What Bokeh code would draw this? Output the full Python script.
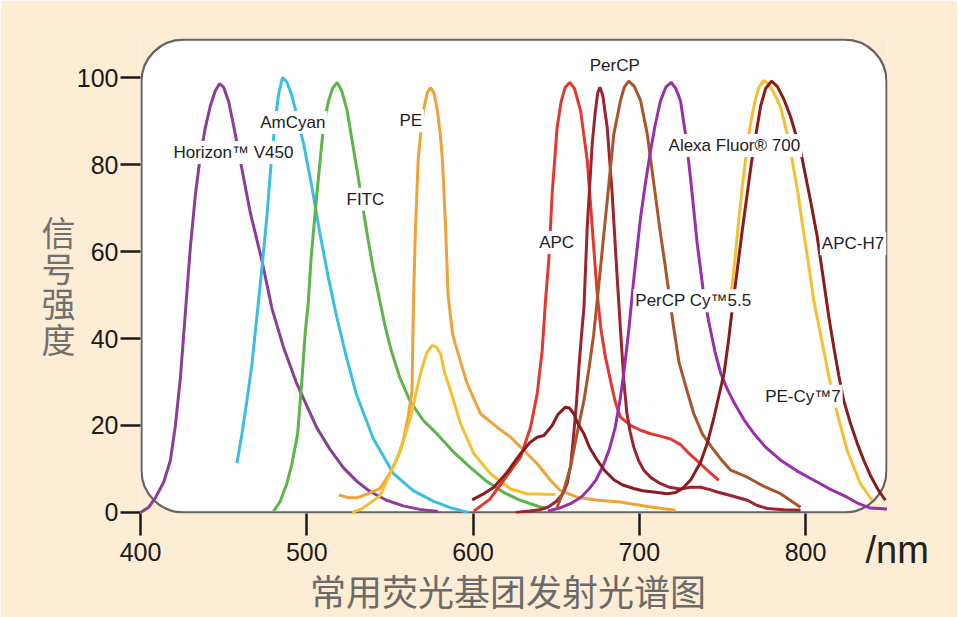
from bokeh.plotting import figure
from bokeh.models import Range1d, FixedTicker, BoxAnnotation, Label
from bokeh.embed import file_html
from bokeh.resources import INLINE

# ---------------- data (wavelength nm, relative intensity) ----------------
horizon_x = [400, 405, 409, 414, 418, 421, 424, 427, 430, 433, 436, 439, 442, 445, 447.5, 450, 453, 456,
             460, 466, 473, 479, 486, 494, 506, 514, 522, 530, 538, 548, 558, 568, 579]
horizon_y = [0, 1.2, 3.4, 7, 12, 20, 31, 46, 61, 73, 82, 88.5, 93.5, 97, 98.6, 97.8, 94.5, 89,
             81, 69, 58, 47, 38, 29.6, 19.5, 14.5, 10.3, 7.2, 4.8, 2.8, 1.5, 0.7, 0.2]

amcyan_x = [458, 461, 464, 467, 470, 473, 476, 478.5, 481, 483, 485.4, 488, 490.5, 493, 496, 498, 503,
            508, 513, 518, 524, 530, 540, 552, 564, 576, 587, 597]
amcyan_y = [11.3, 18, 25.7, 34, 45, 56, 68, 80, 90, 96, 100, 99, 96.5, 93, 88, 85, 75,
            64, 54, 45, 35.5, 27, 17, 9, 5, 2.6, 1, 0]

fitc_x = [480, 484, 488, 491, 494.5, 497, 499, 501, 502.5, 506, 510, 513, 515.5, 518.3, 521, 524.3,
          528.3, 531, 534, 537, 540, 543.5, 547, 551, 556, 562, 570, 578.5, 588, 598.5,
          608, 618.5, 627, 634.6, 644]
fitc_y = [0.2, 2.5, 6.6, 11, 18, 30, 41, 48.7, 58, 73, 88.5, 94.5, 97.5, 98.9, 97, 92.4,
          83.2, 77, 69.5, 62.5, 56, 49.5, 43, 37, 31, 25.7, 21.2, 18, 14, 10.3,
          7.2, 4.6, 3, 2, 0.8]

pe_x = [519.3, 525, 530.3, 537, 544, 550, 555, 558, 561, 563.3, 563.8, 564.3, 565.4, 567, 569, 570.5,
        572.5, 574.4, 576.5, 578.6, 580.3, 581.6, 583.5, 585, 587.7, 590.5, 596.5, 604.5, 614.5,
        622.6, 630.6, 638.6, 646.6, 652.6, 662.7, 675, 688.7, 694.7, 708, 721.8]
pe_y = [4, 3.4, 3.4, 4.3, 5.5, 9, 13, 16.5, 22, 28, 40, 50, 65.5, 81, 89, 93,
        96.5, 97.7, 96.5, 92.4, 87, 81, 65.5, 50, 41, 37.2, 29.6, 22.7, 19.6,
        17.3, 14.3, 11.2, 7.4, 5, 3.5, 2.8, 2.4, 2, 1.2, 0.5]

pecy7_pe_x = [527.3, 533, 538.3, 544, 548.4, 552, 556.4, 562.4, 568.4, 572, 575.4, 578, 580.5, 583,
              586.5, 592.5, 600.5, 610.5, 622.6, 632.6, 649.6]
pecy7_pe_y = [0, 0.8, 2.2, 3.8, 7.4, 10.5, 14.3, 21.9, 31.9, 36.5, 38.4, 38, 36.5, 32,
              28, 20.4, 13.5, 8.9, 5.4, 4.3, 4.1]
pecy7_x = [755.5, 757.5, 759.5, 762, 764.5, 767, 769.5, 772, 774.9, 778, 781, 785, 789, 792, 795.5,
           798, 800.6, 803, 805, 811, 817, 825, 833, 840]
pecy7_y = [51, 58, 66, 75, 83, 89.5, 94.5, 97.8, 99.3, 98.5, 96.5, 93.2, 87, 81, 73.3,
           66.5, 60.2, 54, 48.7, 37.2, 25.7, 14.3, 6.6, 2.8]

apc_x = [600.5, 610, 618.5, 628.6, 634.6, 638.6, 641.6, 643.6, 645.6, 647.6, 650.6, 653, 655.5, 658.2,
         661, 664.7, 668.7, 671.7, 674.7, 677, 679.5, 682.7, 685.5, 688.7, 694.7, 700.8, 706.8, 712,
         718.8, 724.8, 730, 736.8, 742, 747.8]
apc_y = [0.3, 3, 7.4, 12.7, 19.6, 27.3, 37.2, 48.7, 58, 73.3, 88.6, 94.5, 97.8, 98.9,
         97.5, 92.4, 81, 65.6, 50.3, 42, 36, 30.3, 25.5, 21.9, 20, 18.9, 18.1, 17.6,
         16.9, 15.6, 13.5, 11.2, 9.3, 7.4]

percp_x = [625.6, 634, 640, 645, 650, 654, 656.6, 658.8, 660.6, 662.2, 663.7, 665.3, 666.7, 668.7,
           671.7, 673.5, 675, 676.3, 678, 680.7, 683.7, 686.7, 688.7, 690.7, 692.5, 694.5, 696.7,
           699.5, 702.7, 707, 712.8, 718, 724.8, 730.8, 736.8, 742, 746.9, 754.9, 765, 771, 777,
           787, 797]
percp_y = [0, 0.3, 0.6, 1.2, 2.5, 4.3, 6.6, 11, 18.1, 25, 33.4, 41, 47, 65.6,
           84.8, 92, 96.5, 97.8, 96, 88.6, 73.3, 54.1, 42, 30.3, 23, 18.5, 15,
           12, 9.7, 8, 6.6, 5.8, 5.4, 5.8, 5.8, 5.3, 4.7, 3.9, 2.8, 1.6, 0.9,
           0.6, 0.5]

percp55_x = [650.6, 654.5, 658.6, 662.5, 666.7, 669.7, 672.6, 674.7, 677.7, 681.7, 684.7, 688.7, 691,
             693.7, 697, 700.8, 704.8, 708.8, 712.8, 715.5, 718, 720.5, 723.9, 727.8, 732.8, 738,
             743.5, 750, 755, 765, 775, 785, 797]
percp55_y = [1.2, 5, 10.4, 18, 25.7, 33, 41, 48.7, 60.2, 75.5, 87, 94.7, 97.8,
             99.2, 98, 94.7, 87, 75.5, 64, 57, 50, 43, 34.5, 29.2, 22.7, 18,
             15, 11.8, 9.7, 8.1, 6, 4.3, 1.2]

alexa_x = [645, 652, 658.6, 665, 670, 674, 678, 682, 685.5, 688.5, 691, 693.7, 696.5, 700.8, 704,
           706.8, 709.5, 712.8, 716, 719.2, 722, 724.8, 727.8, 730.8, 734.8, 738.8, 742, 745.5,
           749, 753, 757, 763, 769, 776, 785, 795, 805, 815, 825, 832, 839, 849]
alexa_y = [0.3, 1, 2, 3.5, 5.5, 7.5, 10.5, 14.5, 19.5, 26, 33, 42, 53, 67.9, 76.5,
           83.2, 89, 94.7, 97.8, 98.9, 97.5, 94.7, 87, 77, 62, 50, 43.5, 37,
           32, 28.3, 25.3, 21.3, 18.1, 15, 12, 9.5, 7.4, 5.3, 3.5, 2, 1, 0.8]

apch7_x = [599.5, 606, 612.5, 620, 628.6, 634, 638.6, 642.6, 645, 647.6, 651, 655.6, 658, 660.6, 663,
           666.7, 670, 674.7, 679, 684.7, 690, 696.7, 702, 708.8, 716.8, 722, 726, 731, 736.8, 741,
           745, 748, 751, 753.5, 756, 759, 762, 765, 767.5, 770.2, 773, 776, 779.5, 783, 787, 791,
           797, 803, 807, 811, 814, 817, 820, 823, 827, 831, 835, 839, 844, 848]
apch7_y = [2.9, 4.2, 5.8, 9, 13.5, 16, 17.3, 17.7, 18.8, 20, 22.5, 24.2, 24, 22.7, 20.5,
           18.1, 15, 12, 9.7, 7.5, 6.3, 5.5, 5, 4.7, 4.3, 4.6, 5.5, 7.5, 11.5, 16,
           22, 27, 32, 39, 47, 56, 65, 73.5, 80.5, 87, 93.5, 97.5, 99.2, 98, 95, 91,
           83.2, 71.7, 63.5, 53, 45, 38, 31.5, 25.7, 20.5, 16, 12, 8.5, 5, 2.8]

x_ticks = [400, 500, 600, 700, 800]
y_ticks = [0, 20, 40, 60, 80, 100]

# curve labels: (text, x, y)
curve_labels = [
    ("Horizon\u2122 V450", 418.6, 82.8),
    ("AmCyan", 470.8, 89.7),
    ("FITC", 522.7, 72.0),
    ("PE", 554.6, 90.1),
    ("APC", 638.6, 62.1),
    ("PerCP", 669.0, 102.8),
    ("Alexa Fluor\u00ae 700", 716.4, 84.4),
    ("PerCP Cy\u21225.5", 696.4, 48.7),
    ("APC-H7", 808.6, 61.8),
    ("PE-Cy\u21227", 774.5, 26.7),
]

y_title = "信\n号\n强\n度"
x_title = "常用荧光基团发射光谱图"
unit_text = "/nm"

# ---------------- figure ----------------
BG = "#fdedd4"
W, H = 957, 617
p = figure(width=W, height=H, output_backend="svg", toolbar_location=None,
           x_range=Range1d(400, 849.3), y_range=Range1d(-0.25, 109),
           min_border_left=140, min_border_right=W - 887, min_border_top=38,
           min_border_bottom=H - 513)
p.background_fill_color = BG
p.border_fill_color = BG
p.outline_line_color = None
p.grid.visible = False

frame = BoxAnnotation(left=400.6, right=848.7, bottom=0.0, top=108.75,
                      fill_color="white", fill_alpha=1.0,
                      line_color="#646464", line_alpha=1.0, line_width=2.2, border_radius=42,
                      level="underlay")
p.add_layout(frame)

for ax in (p.xaxis[0], p.yaxis[0]):
    ax.axis_line_color = None
    ax.major_tick_in = 0
    ax.minor_tick_line_color = None
    ax.major_tick_line_width = 2.5
    ax.major_tick_line_color = "#1a1a1a"
    ax.major_label_text_font = "Liberation Sans"
    ax.major_label_text_font_size = "25px"
    ax.major_label_text_color = "#1a1a1a"

p.xaxis.ticker = FixedTicker(ticks=x_ticks)
p.yaxis.ticker = FixedTicker(ticks=y_ticks)
p.xaxis.major_tick_out = 22
p.yaxis.major_tick_out = 20
p.xaxis.major_label_standoff = 7
p.yaxis.major_label_standoff = 2

LW = 3
p.line(horizon_x, horizon_y, line_color="#8b3d98", line_width=LW)
p.line(amcyan_x, amcyan_y, line_color="#3dbde2", line_width=LW)
p.line(fitc_x, fitc_y, line_color="#5cb44a", line_width=LW)
p.line(pe_x, pe_y, line_color="#f0a23a", line_width=LW)
p.line(pecy7_pe_x, pecy7_pe_y, line_color="#f5bf32", line_width=LW)
p.line(pecy7_x, pecy7_y, line_color="#f5bf32", line_width=LW)
p.line(apc_x, apc_y, line_color="#e2392e", line_width=LW)
p.line(percp_x, percp_y, line_color="#9c2430", line_width=LW)
p.line(percp55_x, percp55_y, line_color="#a8552c", line_width=LW)
p.line(alexa_x, alexa_y, line_color="#9a2fac", line_width=LW)
p.line(apch7_x, apch7_y, line_color="#8a1c1e", line_width=LW)

for txt, lx, ly in curve_labels:
    p.add_layout(Label(x=lx, y=ly, text=txt, text_align="left", text_baseline="middle",
                       text_font="Liberation Sans", text_font_size="17px", text_color="#222222",
                       background_fill_color="white", background_fill_alpha=1.0, padding=2))

# titles placed in the side panels so that they are not clipped to the frame
p.add_layout(Label(x=350.7, y=52.3, text=y_title, text_align="center", text_baseline="middle",
                   text_font="Noto Sans CJK SC", text_font_size="34px", text_color="#707070",
                   text_line_height=0.73),
             "left")
p.add_layout(Label(x=621.0, y=-17.9, text=x_title, text_align="center", text_baseline="middle",
                   text_font="Noto Sans CJK SC", text_font_size="36px", text_color="#6a6a6a"),
             "below")
p.add_layout(Label(x=836.1, y=-8.7, text=unit_text, text_align="left", text_baseline="middle",
                   text_font="Liberation Sans", text_font_size="38px", text_color="#222222"),
             "right")

open("out.html", "w").write(file_html(p, INLINE))
